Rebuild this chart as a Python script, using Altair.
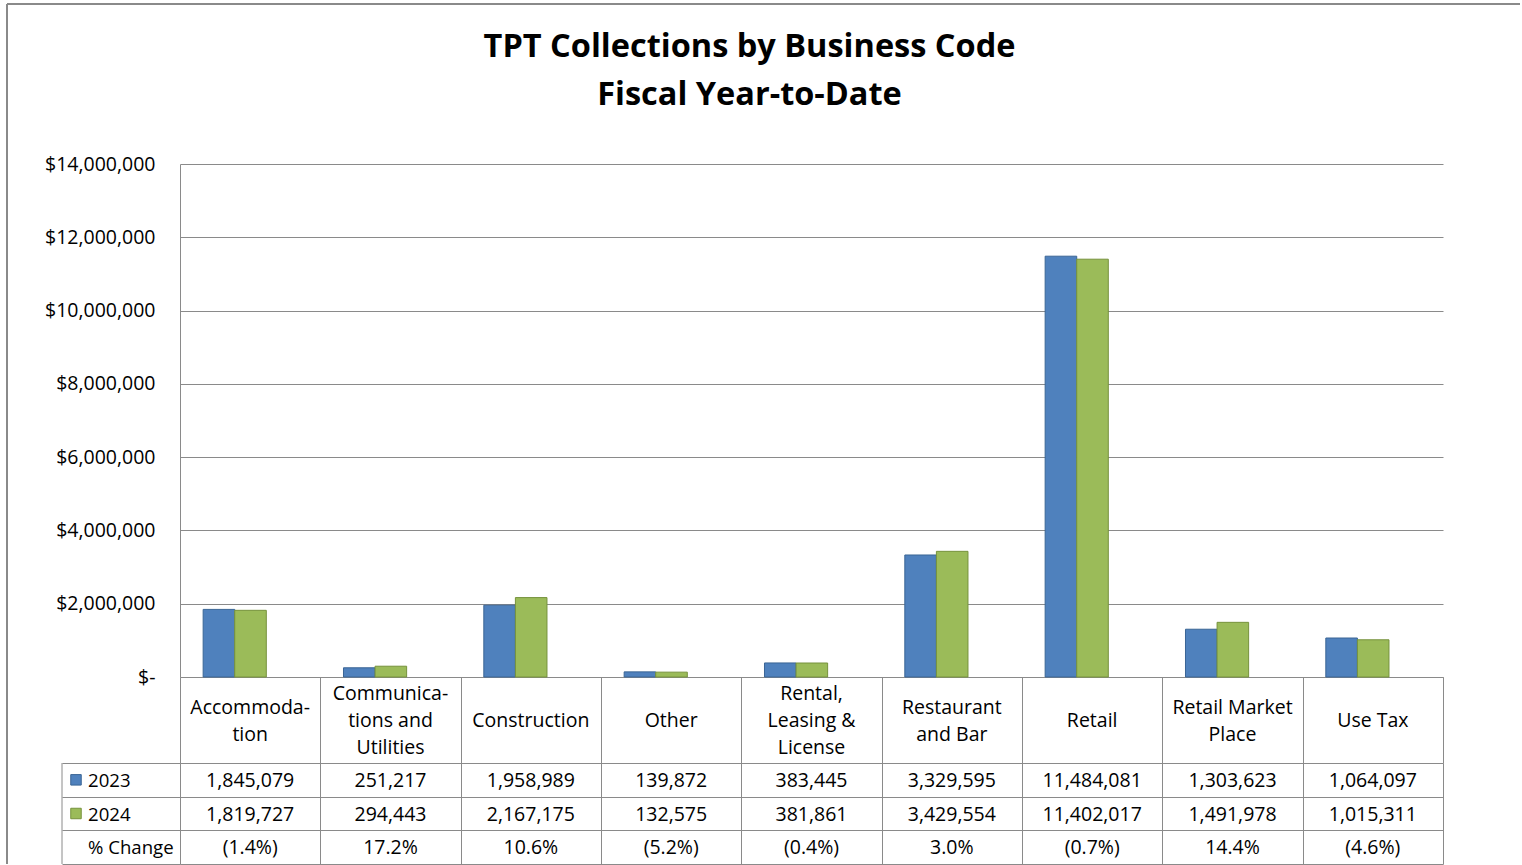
import altair as alt
import pandas as pd

categories = [
    "Accommoda-\ntion",
    "Communica-\ntions and\nUtilities",
    "Construction",
    "Other",
    "Rental,\nLeasing &\nLicense",
    "Restaurant\nand Bar",
    "Retail",
    "Retail Market\nPlace",
    "Use Tax",
]
years = ["2023", "2024"]
values_2023 = [1845079, 251217, 1958989, 139872, 383445, 3329595, 11484081, 1303623, 1064097]
values_2024 = [1819727, 294443, 2167175, 132575, 381861, 3429554, 11402017, 1491978, 1015311]
pct_change = ["(1.4%)", "17.2%", "10.6%", "(5.2%)", "(0.4%)", "3.0%", "(0.7%)", "14.4%", "(4.6%)"]
y_ticks = [0, 2000000, 4000000, 6000000, 8000000, 10000000, 12000000, 14000000]
row_labels = ["2023", "2024", "% Change"]
title_lines = ["TPT Collections by Business Code", "Fiscal Year-to-Date"]

GRAY = "#8a8a8a"
FONT = "Open Sans"
FS = 19.5
FILL = ["#4F81BD", "#9BBB59"]
EDGE = ["#3A6595", "#76923C"]
W = 1263
LINE_H = 27

bars_df = pd.DataFrame(
    [{"category": c, "year": "2023", "value": v} for c, v in zip(categories, values_2023)]
    + [{"category": c, "year": "2024", "value": v} for c, v in zip(categories, values_2024)]
)
cells_df = pd.DataFrame(
    [{"category": c, "row": "2023", "txt": f"{v:,}"} for c, v in zip(categories, values_2023)]
    + [{"category": c, "row": "2024", "txt": f"{v:,}"} for c, v in zip(categories, values_2024)]
    + [{"category": c, "row": "% Change", "txt": p} for c, p in zip(categories, pct_change)]
)
rows_df = pd.DataFrame({"row": row_labels})
keys_df = pd.DataFrame({"row": years, "year": years})
header_df = pd.DataFrame({"category": categories,
                          "lines": [c.count("\n") + 1 for c in categories]})
frame_df = pd.DataFrame({"k": [0]})

color_enc = alt.Color("year:N", scale=alt.Scale(domain=years, range=FILL), legend=None)
stroke_enc = alt.Stroke("year:N", scale=alt.Scale(domain=years, range=EDGE), legend=None)

bars = alt.Chart(bars_df).mark_bar(strokeWidth=1).encode(
    x=alt.X("category:N", sort=categories, title=None,
            scale=alt.Scale(domain=categories, paddingInner=0.55, paddingOuter=0.275, align=0.3),
            axis=alt.Axis(labels=False, ticks=False, grid=False, domainColor=GRAY, domainWidth=1)),
    xOffset=alt.XOffset("year:N", sort=years, scale=alt.Scale(paddingInner=0, paddingOuter=0)),
    y=alt.Y("value:Q", title=None, scale=alt.Scale(domain=[0, 14000000], nice=False),
            axis=alt.Axis(values=y_ticks,
                          labelExpr="datum.value == 0 ? '$-' : '$' + format(datum.value, ',')",
                          ticks=False, tickSize=0, labelPadding=25, labelFont=FONT, labelFontSize=FS,
                          labelColor="#000", gridColor=GRAY, domainColor=GRAY)),
    color=color_enc,
    stroke=stroke_enc,
)
frame_left = alt.Chart(frame_df).mark_rule(color=GRAY, strokeWidth=2).encode(
    x=alt.value(-173), y=alt.value(-160), y2=alt.value(700))
frame_top = alt.Chart(frame_df).mark_rule(color=GRAY, strokeWidth=2).encode(
    x=alt.value(-173), x2=alt.value(1340), y=alt.value(-160))

top = alt.layer(bars, frame_left, frame_top).properties(
    width=W, height=513,
    title=alt.TitleParams(text=title_lines, font=FONT, fontSize=32.5, fontWeight="bold", color="#000",
                          lineHeight=48, anchor="middle", frame="group", dx=-62, offset=-108),
)

x_cat = alt.X("category:N", sort=categories, title=None,
              scale=alt.Scale(domain=categories, paddingInner=0, paddingOuter=0),
              axis=alt.Axis(labels=False, ticks=False, domain=False, grid=True, tickBand="extent",
                            gridColor=GRAY))

header_layers = []
for n in (1, 2, 3):
    header_layers.append(
        alt.Chart(header_df).transform_filter(alt.datum.lines == n).mark_text(
            font=FONT, fontSize=FS, lineBreak="\n", lineHeight=LINE_H, color="#000",
            dy=-(n - 1) * LINE_H / 2 + 1,
        ).encode(x=x_cat, text="category:N")
    )
header = alt.layer(*header_layers).properties(width=W, height=86)

y_rows = alt.Y("row:N", sort=row_labels, title=None,
               scale=alt.Scale(domain=row_labels, paddingInner=0, paddingOuter=0),
               axis=alt.Axis(labels=False, grid=True, tickBand="extent", ticks=True, tickSize=118,
                             tickColor=GRAY, gridColor=GRAY, domainColor=GRAY))

cells = alt.Chart(cells_df).mark_text(font=FONT, fontSize=FS, color="#000", dy=1).encode(
    x=x_cat, y=y_rows, text="txt:N")
row_names = alt.Chart(rows_df).mark_text(font=FONT, fontSize=18.6, color="#000", align="left",
                                         dy=1).encode(
    x=alt.value(-92), y=y_rows, text="row:N")
keys = alt.Chart(keys_df).mark_point(shape="square", filled=True, size=110, strokeWidth=1,
                                     opacity=1).encode(
    x=alt.value(-104), y=y_rows, color=color_enc, stroke=stroke_enc)
left_edge = alt.Chart(frame_df).mark_rule(color=GRAY, strokeWidth=1).encode(
    x=alt.value(-118), y=alt.value(0), y2=alt.value(101))

rows = alt.layer(cells, row_names, keys, left_edge).properties(width=W, height=101)

chart = alt.vconcat(top, header, rows, spacing=0, bounds="flush").resolve_scale(
    x="independent"
).properties(
    padding={"left": 6, "top": 3, "right": 0, "bottom": 0}
).configure_view(stroke=None).configure_axis(labelFont=FONT)

chart.save("out.html", embed_options={"renderer": "svg", "actions": False})
